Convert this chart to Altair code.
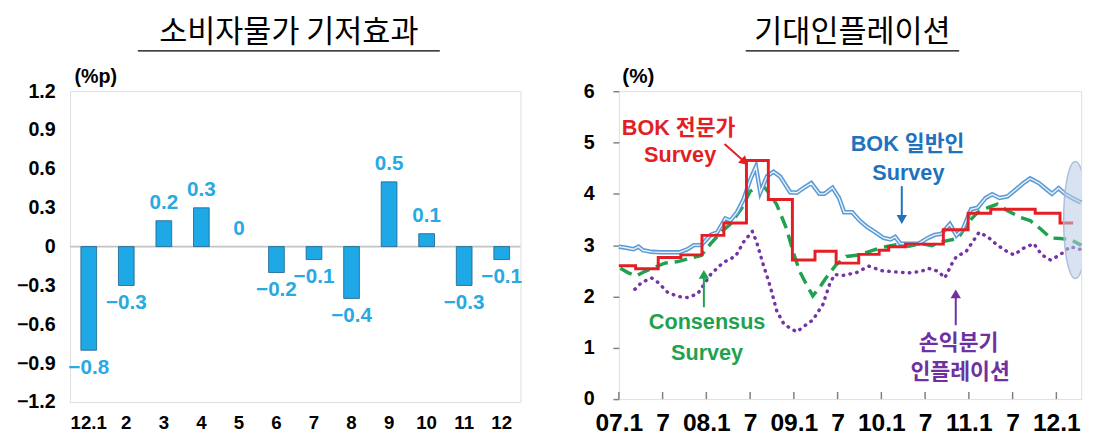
import altair as alt
import pandas as pd

# ---------------- data: left panel ----------------
left_title = "소비자물가 기저효과"
bar_months = ["12.1", "2", "3", "4", "5", "6", "7", "8", "9", "10", "11", "12"]
bar_values = [-0.8, -0.3, 0.2, 0.3, 0.0, -0.2, -0.1, -0.4, 0.5, 0.1, -0.3, -0.1]
left_ticks = [1.2, 0.9, 0.6, 0.3, 0.0, -0.3, -0.6, -0.9, -1.2]

# ---------------- data: right panel (x = months since 2007.1) ----------------
right_title = "기대인플레이션"
x_tick_pos = [0, 6, 12, 18, 24, 30, 36, 42, 48, 54, 60]
x_tick_lbl = ["07.1", "7", "08.1", "7", "09.1", "7", "10.1", "7", "11.1", "7", "12.1"]
right_ticks = [0, 1, 2, 3, 4, 5, 6]

blue_m = [0, 1, 2, 2.7, 3.3, 4.5, 5.8, 7.2, 8.3, 9.4, 10.3, 11.3, 12.6, 13.5, 14.6, 15.3,
          16.2, 17.1, 18, 18.8, 19.4, 20.3, 21.2, 22.1, 23.5, 24.4, 25.3, 26.4, 27.5, 28.2,
          29.3, 30.2, 30.9, 32, 33, 34.1, 35.2, 36.3, 37.25, 37.9, 38.6, 39.7, 41.1, 42.4,
          43.3, 44.2, 45.4, 46.3, 47.2, 48.3, 49.2, 50.3, 51.2, 52.2, 53.3, 54.4, 55.5,
          56.4, 57.6, 58.7, 59.4, 60.3, 61.3, 62.4, 63.4]
blue_v = [2.97, 2.95, 2.92, 2.97, 2.9, 2.87, 2.86, 2.86, 2.86, 2.92, 3.0, 3.0, 3.2, 3.25,
          3.52, 3.48, 3.64, 3.89, 4.27, 4.53, 4.03, 4.34, 4.43, 4.34, 4.03, 4.02, 4.11, 4.21,
          4.0, 4.0, 4.12, 3.92, 3.64, 3.64, 3.48, 3.35, 3.25, 3.14, 3.11, 3.16, 3.03, 3.03,
          3.03, 3.14, 3.2, 3.22, 3.41, 3.19, 3.32, 3.7, 3.73, 3.92, 3.99, 3.92, 3.95, 4.08,
          4.21, 4.3, 4.21, 4.08, 4.0, 4.11, 3.99, 3.9, 3.83]

red_m = [0, 2.3, 5.4, 8.5, 11.4, 14.4, 17.5, 20.5, 23.8, 26.9, 29.8, 32.9, 35.7, 37.0,
         39.3, 44.5, 47.9, 51.0, 57.1, 60.5, 62.3]
red_v = [2.6, 2.54, 2.76, 2.81, 3.19, 3.43, 4.65, 3.89, 2.71, 2.88, 2.65, 2.82, 2.9, 2.97,
         3.02, 3.3, 3.62, 3.7, 3.62, 3.43, 3.43]

green_m = [0.2, 1.3, 2.4, 3.6, 4.9, 6.3, 8.1, 9.9, 11.3, 12.6, 14, 15.3, 16.9, 18, 18.9, 20.0,
           20.75, 21.65, 23, 23.9, 24.8, 25.7, 26.6, 27.5, 28.4, 29.8, 31.2, 33, 34.8, 36.6,
           38.2, 39.7, 41.5, 42.9, 44.7, 46.5, 47.9, 49.2, 50.6, 51.9, 53.3, 55.1, 56.4,
           57.8, 59.2, 60.5, 61.9, 63.4]
green_v = [2.55, 2.46, 2.4, 2.49, 2.57, 2.65, 2.68, 2.75, 2.8, 3.03, 3.25, 3.41, 3.73, 4.05,
           4.11, 4.12, 3.99, 3.79, 3.32, 2.87, 2.49, 2.24, 2.01, 2.17, 2.36, 2.62, 2.78, 2.81,
           2.9, 2.97, 3.01, 2.98, 3.03, 2.99, 3.08, 3.13, 3.44, 3.64, 3.73, 3.8, 3.67, 3.54,
           3.48, 3.32, 3.14, 3.13, 3.11, 3.0]

purple_m = [2.2, 3.1, 4.5, 5.4, 6.7, 8.1, 9.4, 10.8, 11.7, 12.6, 14, 14.9, 16, 17.1, 18.3,
            18.9, 19.8, 20.75, 21.65, 22.6, 23.5, 24.4, 25.3, 26.6, 28, 28.9, 29.6, 30.7,
            32.5, 34.3, 36.1, 37.9, 39.7, 41.5, 42.4, 43.8, 44.7, 45.6, 46.3, 47.6, 48.5,
            49.4, 50.6, 51.9, 53.3, 54.2, 55.5, 56.9, 58, 59.2, 60.5, 61.9, 63.2]
purple_v = [2.14, 2.27, 2.36, 2.27, 2.08, 2.0, 1.98, 2.05, 2.24, 2.43, 2.62, 2.71, 2.78, 3.06,
            3.27, 3.06, 2.62, 2.2, 1.72, 1.47, 1.38, 1.31, 1.41, 1.54, 1.85, 2.24, 2.43, 2.41,
            2.46, 2.59, 2.5, 2.48, 2.46, 2.49, 2.55, 2.49, 2.36, 2.62, 2.78, 2.87, 3.06, 3.25,
            3.16, 3.0, 2.87, 2.81, 2.94, 3.03, 2.81, 2.71, 2.81, 2.97, 2.92]

# annotations (in data units)
ann_text = ["BOK 전문가", "Survey", "BOK 일반인", "Survey", "Consensus", "Survey", "손익분기", "인플레이션"]
ann_m = [8.2, 8.4, 39.6, 39.7, 12.1, 12.1, 46.6, 46.8]
ann_v = [5.29, 4.75, 4.97, 4.4, 1.5, 0.9, 1.09, 0.52]
ann_col = ["#e31e24", "#e31e24", "#1f72be", "#1f72be", "#1fa24f", "#1fa24f", "#7030a0", "#7030a0"]

arrow_m = [14.5, 38.8, 11.66, 46.2]
arrow_v = [4.97, 4.15, 1.79, 1.44]
arrow_m2 = [17.28, 38.8, 11.66, 46.2]
arrow_v2 = [4.62, 3.5, 2.43, 2.05]
arrow_ang = [132, 180, 0, 0]
arrow_col = ["#e31e24", "#1f72be", "#1fa24f", "#7030a0"]

ellipse_m = [62.6]
ellipse_v = [3.49]

FONT = "Liberation Sans, Arial, Noto Sans CJK KR"
KFONT = "Noto Sans CJK KR"
# ellipse outline as four cubic quarter-arcs (tight bounds)
ELLIPSE_PATH = ("M0,-1C0.11,-1,0.2,-0.552,0.2,0C0.2,0.552,0.11,1,0,1"
                "C-0.11,1,-0.2,0.552,-0.2,0C-0.2,-0.552,-0.11,-1,0,-1Z")

# ---------------- left panel ----------------
df_bar = pd.DataFrame({"month": bar_months, "val": bar_values})
df_title_l = pd.DataFrame({"t": [left_title]})

y_left = alt.Y(
    "val:Q",
    scale=alt.Scale(domain=[-1.2, 1.2], nice=False),
    axis=alt.Axis(values=left_ticks, format=".1~f", grid=False, domain=False, ticks=False,
                  labelFont=FONT, labelFontSize=20, labelFontWeight="bold", labelColor="black",
                  labelPadding=15, title="(%p)", titleAngle=0, titleAlign="left",
                  titleBaseline="middle", titleX=4, titleY=-15, titleFont=FONT,
                  titleFontSize=20, titleFontWeight="bold", titleColor="black"),
)
x_left = alt.X(
    "month:N", sort=bar_months,
    scale=alt.Scale(paddingInner=0, paddingOuter=0),
    axis=alt.Axis(labelAngle=0, domain=False, ticks=False, labelFont=FONT, labelFontSize=19,
                  labelFontWeight="bold", labelColor="black", labelPadding=12, title=None),
)

base_l = alt.Chart(df_bar).encode(x=x_left, y=y_left)
zero_rule = alt.Chart(pd.DataFrame({"val": [0.0]})).mark_rule(
    color="#c4c4c4", strokeWidth=2).encode(y=y_left)
bars = base_l.transform_filter("datum.val != 0").mark_bar(
    size=16, color="#1ea8e6", stroke="#1b5f8c", strokeWidth=0.8)
lab_pos = base_l.transform_filter("datum.val >= 0").mark_text(
    dy=-18, font=FONT, fontSize=21, fontWeight="bold", color="#29a9e1"
).encode(text=alt.Text("val:Q", format=".1~f"))
lab_neg = base_l.transform_filter("datum.val < 0").mark_text(
    dy=18, font=FONT, fontSize=21, fontWeight="bold", color="#29a9e1"
).encode(text=alt.Text("val:Q", format=".1~f"))
title_l = alt.Chart(df_title_l).mark_text(
    font=KFONT, fontSize=31, color="black", align="center", baseline="middle"
).encode(text="t:N", x=alt.value(222.5), y=alt.value(-59))
uline_l = alt.Chart(df_title_l).mark_rule(color="black", strokeWidth=1.5).encode(
    x=alt.value(69), x2=alt.value(376), y=alt.value(-41))

left = alt.layer(zero_rule, bars, lab_pos, lab_neg, title_l, uline_l).properties(
    width=458, height=316)

# ---------------- right panel ----------------
label_expr = " : ".join(f"datum.value == {p} ? '{l}'" for p, l in zip(x_tick_pos, x_tick_lbl)) + " : ''"

x_scale_r = alt.Scale(domain=[0, 63.4], nice=False, zero=False)
y_scale_r = alt.Scale(domain=[0, 6], nice=False)
x_right = alt.X(
    "m:Q", scale=x_scale_r,
    axis=alt.Axis(values=x_tick_pos, labelExpr=label_expr, grid=False, domain=False,
                  ticks=False, labelFlush=False, labelOverlap=False, labelFont=FONT,
                  labelFontSize=25, labelFontWeight="bold", labelColor="black",
                  labelPadding=12, title=None),
)
y_right = alt.Y(
    "v:Q", scale=y_scale_r,
    axis=alt.Axis(values=right_ticks, format="d", grid=False, domain=False, tickSize=6,
                  tickColor="#808080", tickWidth=1.5, labelFont=FONT, labelFontSize=20,
                  labelFontWeight="bold", labelColor="black", labelPadding=19,
                  labelFlush=False, labelOverlap=False,
                  title="(%)", titleAngle=0, titleAlign="left", titleBaseline="middle",
                  titleX=3, titleY=-15, titleFont=FONT, titleFontSize=21,
                  titleFontWeight="bold", titleColor="black"),
)

df_blue = pd.DataFrame({"m": blue_m, "v": blue_v})
df_red = pd.DataFrame({"m": red_m, "v": red_v})
df_green = pd.DataFrame({"m": green_m, "v": green_v})
df_purple = pd.DataFrame({"m": purple_m, "v": purple_v})
df_ticks = pd.DataFrame({"m": x_tick_pos, "v": [0.0] * len(x_tick_pos), "v2": [0.14] * len(x_tick_pos)})
df_ann = pd.DataFrame({"m": ann_m, "v": ann_v, "t": ann_text, "c": ann_col})
df_arr = pd.DataFrame({"m": arrow_m, "v": arrow_v, "m2": arrow_m2, "v2": arrow_v2,
                       "a": arrow_ang, "c": arrow_col})
df_ell = pd.DataFrame({"m": ellipse_m, "v": ellipse_v})
df_title_r = pd.DataFrame({"t": [right_title]})

purple = alt.Chart(df_purple).mark_line(
    color="#7434a6", strokeWidth=3.5, strokeDash=[0.5, 6.5], strokeCap="round"
).encode(x=x_right, y=y_right)
green = alt.Chart(df_green).mark_line(
    color="#1fa24f", strokeWidth=3.5, strokeDash=[13, 7]
).encode(x=x_right, y=y_right)
blue_out = alt.Chart(df_blue).mark_line(color="#5b9bd5", strokeWidth=4.5).encode(x=x_right, y=y_right)
blue_in = alt.Chart(df_blue).mark_line(color="#eaf2fb", strokeWidth=1.4).encode(x=x_right, y=y_right)
red = alt.Chart(df_red).mark_line(
    color="#e31e24", strokeWidth=3, interpolate="step-after"
).encode(x=x_right, y=y_right)
ticks_in = alt.Chart(df_ticks).mark_rule(color="#808080", strokeWidth=1.5).encode(
    x=x_right, y=y_right, y2="v2:Q")
ann = alt.Chart(df_ann).mark_text(
    font=FONT, fontSize=22, fontWeight="bold", align="center", baseline="middle"
).encode(x=x_right, y=y_right, text="t:N", color=alt.Color("c:N", scale=None))
arr_shaft = alt.Chart(df_arr).mark_rule(strokeWidth=2).encode(
    x=x_right, y=y_right, x2="m2:Q", y2="v2:Q", color=alt.Color("c:N", scale=None))
arr_head = alt.Chart(df_arr).mark_point(
    shape="triangle-up", filled=True, size=110, opacity=1
).encode(x=alt.X("m2:Q", scale=x_scale_r),
         y=alt.Y("v2:Q", scale=y_scale_r),
         angle=alt.Angle("a:Q", scale=None), color=alt.Color("c:N", scale=None))
ellipse = alt.Chart(df_ell).mark_point(
    shape=ELLIPSE_PATH, filled=True, clip=True,
    fill="#b9cbe3", fillOpacity=0.55, stroke="#a6bad6", strokeWidth=1.5, strokeOpacity=0.9,
    size=14161
).encode(x=x_right, y=y_right)
title_r = alt.Chart(df_title_r).mark_text(
    font=KFONT, fontSize=31, color="black", align="center", baseline="middle"
).encode(text="t:N", x=alt.value(237.5), y=alt.value(-59))
uline_r = alt.Chart(df_title_r).mark_rule(color="black", strokeWidth=1.5).encode(
    x=alt.value(129), x2=alt.value(346), y=alt.value(-41))

right = alt.layer(purple, green, blue_out, blue_in, red, ticks_in, ann, arr_shaft, arr_head,
                  ellipse, title_r, uline_r).properties(width=470, height=313)

chart = alt.hconcat(left, right, spacing=60).properties(
    padding={"left": 8, "top": 5, "right": 0, "bottom": 0}
).configure_view(stroke="#808080", strokeWidth=1.5).configure(background="white")

chart.save("out.html", embed_options={"renderer": "svg", "actions": False})
